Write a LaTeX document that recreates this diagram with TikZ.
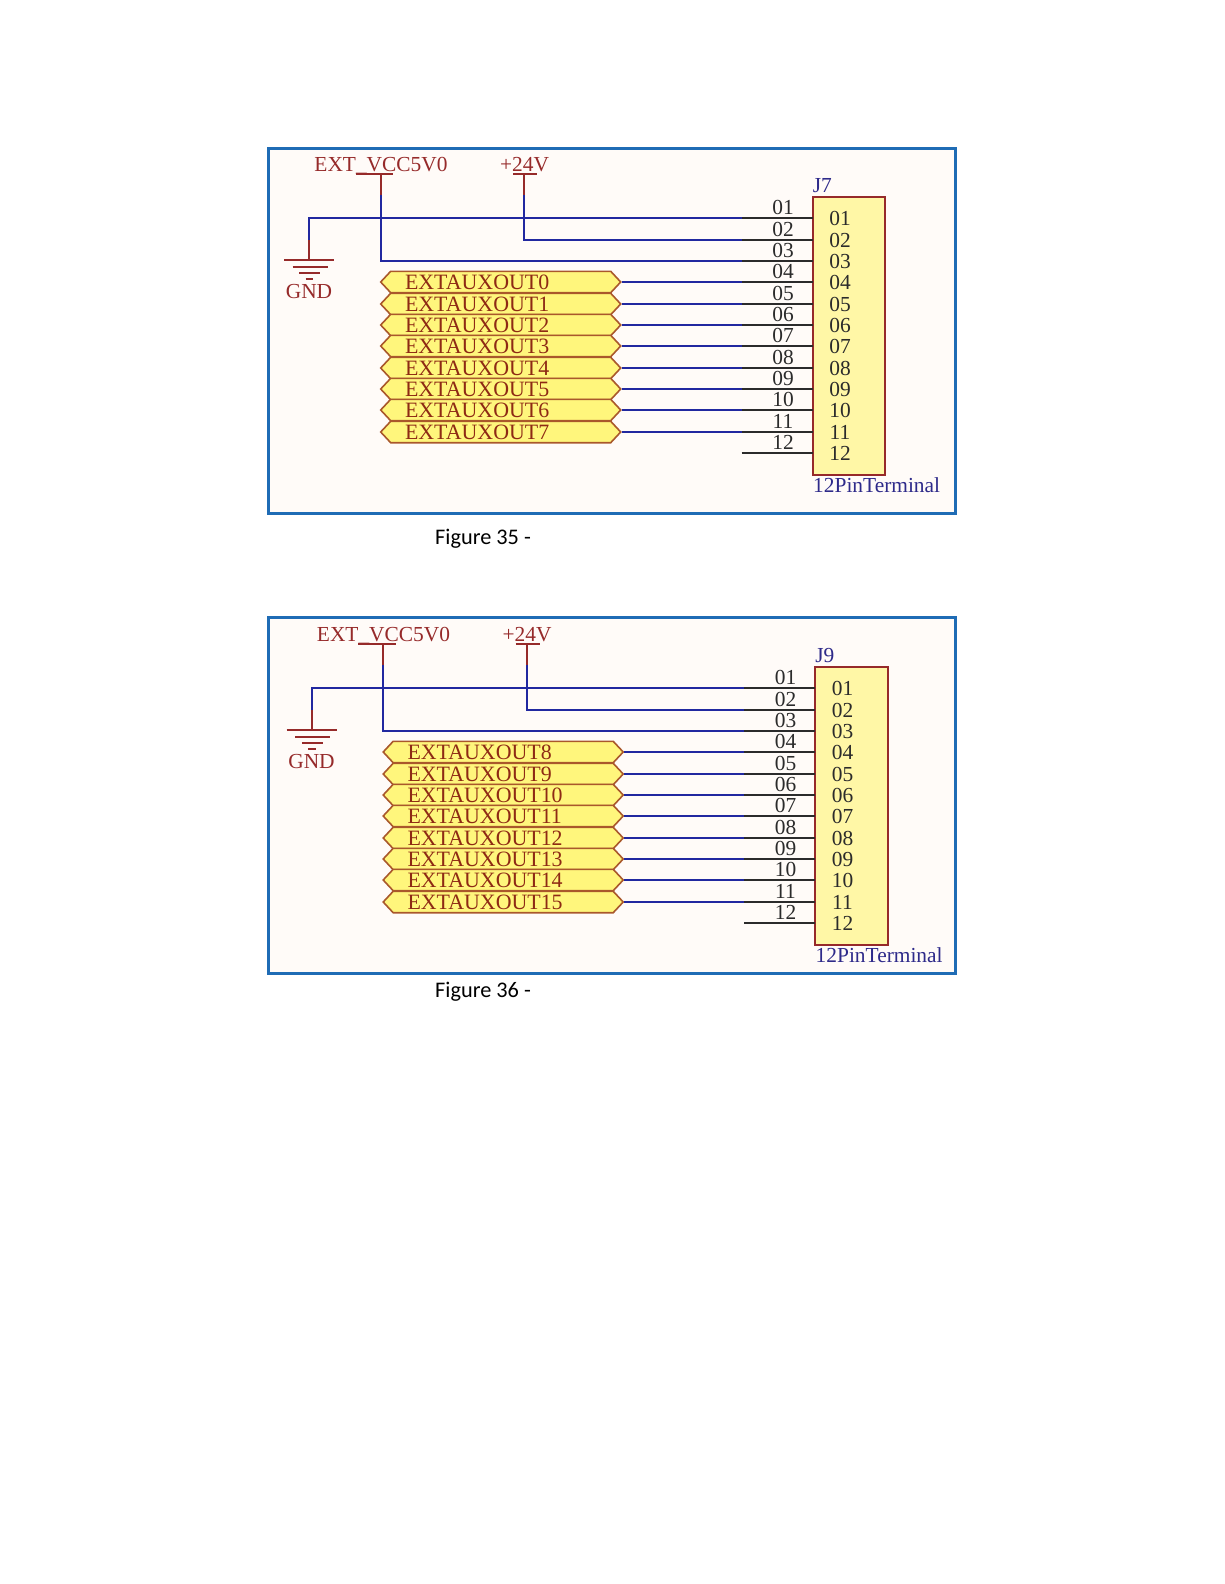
\documentclass[tikz,border=0pt]{standalone}
\usepackage{fontspec}
\setmainfont{Liberation Serif}
\newfontfamily\capfont{Carlito}
\usetikzlibrary{shapes.symbols}
\definecolor{framecol}{HTML}{1F6CB5}
\definecolor{inkred}{HTML}{962A2A}
\definecolor{porttext}{HTML}{8E2A14}
\definecolor{wireblue}{HTML}{2128A0}
\definecolor{pinblack}{HTML}{2B2B2B}
\definecolor{navytext}{HTML}{2E2A8A}
\definecolor{portfill}{HTML}{FFF67C}
\definecolor{portline}{HTML}{A9582B}
\definecolor{boxfill}{HTML}{FFF7A6}
\definecolor{sheetcol}{HTML}{FFFBF8}
\tikzset{
  sch/.style={font=\fontsize{21.4}{24}\selectfont, inner sep=0pt},
  nettext/.style={sch, text=inkred, anchor=base},
  pintext/.style={sch, text=pinblack, anchor=base},
  parttext/.style={sch, text=navytext, anchor=base west},
  redwire/.style={inkred, line width=2pt},
  bluewire/.style={wireblue, line width=2pt},
  blackwire/.style={pinblack, line width=2pt},
  portbox/.style={sch, font=\fontsize{21.9}{24}\selectfont, signal, signal to=west and east,
    signal pointer angle=94, draw=portline, line width=1.6pt, fill=portfill, text=porttext,
    minimum width=240pt, minimum height=21.4pt, text width=191.4pt,
    text height=14pt, text depth=0pt, align=left},
  connbox/.style={draw=inkred, line width=2pt, fill=boxfill, inner sep=0pt,
    minimum width=72.3pt, minimum height=278.3pt},
  framebox/.style={framecol, line width=3pt, fill=sheetcol},
  figtext/.style={font=\capfont\fontsize{22.3}{26}\selectfont, inner sep=0pt, anchor=base west}
}
\begin{document}
\begin{tikzpicture}[x=1pt, y=-1pt]
    \useasboundingbox[fill=white!99!sheetcol] (0, 0) rectangle (1224, 1584);
    \draw[framebox] (268, 148.5) rectangle (955.5, 513);
    \draw[framebox] (268, 617) rectangle (955.5, 973.5);
    \node[figtext] (figa) at (435, 544.3) {Figure 35 -};
    \node[figtext] (figb) at (435, 997.3) {Figure 36 -};

    % 1. both sheets
    \foreach \pn/\dx/\dy/\partname/\first in {a/0/0/J7/0, b/2.5/470/J9/8} {
      \begin{scope}[shift={(\dx, \dy)}]
        \node[connbox] (\pn conn) at (848.9, 335.8) {};
        \node[parttext] (\pn part) at (812.7, 192.3) {\partname};
        \node[parttext] (\pn type) at (813, 492.7) {12PinTerminal};

        % pins
        \foreach \i in {1, ..., 12} {
          \pgfmathsetmacro\wy{round(218.3+21.32*(\i-1))}
          \coordinate (\pn pin\i) at (812.7, \wy);
          \coordinate (\pn mid\i) at (741.5, \wy);
          \draw[blackwire] (\pn mid\i) -- (\pn pin\i);
          \ifnum\i<10
            \node[pintext] (\pn out\i) at (783, \wy-3.4) {0\i};
            \node[pintext] (\pn in\i) at (840, \wy+7.3) {0\i};
          \else
            \node[pintext] (\pn out\i) at (783, \wy-3.4) {\i};
            \node[pintext] (\pn in\i) at (840, \wy+7.3) {\i};
          \fi
        }

        % ports
        \foreach \i in {0, ..., 7} {
          \pgfmathtruncatemacro\portno{\first+\i}
          \pgfmathtruncatemacro\pinno{\i+4}
          \pgfmathsetmacro\wy{round(218.3+21.32*(\pinno-1))}
          \node[portbox] (\pn port\i) at (500.7, \wy) {EXTAUXOUT\portno};
          \draw[bluewire] (\pn port\i.east) -- (\pn mid\pinno);
        }

        % supplies
        \node[nettext] (\pn vcc) at (381, 171) {EXT\_VCC5V0};
        \coordinate (\pn vcctop) at (380.7, 174.3);
        \coordinate (\pn vccmid) at (380.7, 195);
        \draw[redwire] (355.7, 174.3) -- (393.3, 174.3);
        \draw[redwire] (\pn vcctop) -- (\pn vccmid);
        \draw[bluewire] (\pn vccmid) |- (\pn mid3);

        \node[nettext] (\pn plus) at (524.5, 171) {+24V};
        \coordinate (\pn plustop) at (524, 174.3);
        \coordinate (\pn plusmid) at (524, 195);
        \draw[redwire] (513, 174.3) -- (537, 174.3);
        \draw[redwire] (\pn plustop) -- (\pn plusmid);
        \draw[bluewire] (\pn plusmid) |- (\pn mid2);

        % ground
        \coordinate (\pn gndmid) at (309, 240);
        \coordinate (\pn gndtop) at (309, 260.3);
        \draw[bluewire] (\pn mid1) -| (\pn gndmid);
        \draw[redwire] (\pn gndmid) -- (\pn gndtop);
        \draw[redwire] (284, 260.3) -- (334, 260.3);
        \draw[redwire] (292.5, 266.7) -- (327.7, 266.7);
        \draw[redwire] (299.3, 272.7) -- (320.3, 272.7);
        \draw[redwire] (305.7, 279) -- (313, 279);
        \node[nettext] (\pn gnd) at (309, 298.3) {GND};
      \end{scope}
    }
  \end{tikzpicture}
\end{document}
